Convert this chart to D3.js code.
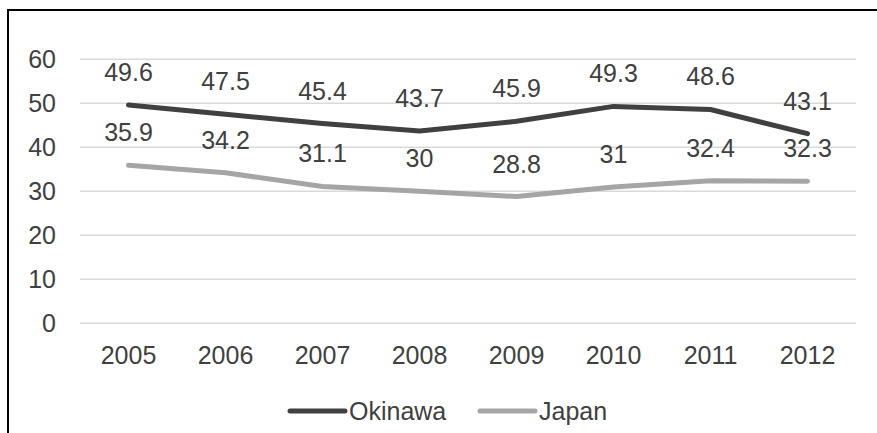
<!DOCTYPE html>
<html>
<head>
<meta charset="utf-8">
<script src="https://cdn.jsdelivr.net/npm/d3@7"></script>
<style>
  html, body { margin: 0; padding: 0; background: #fff; }
  svg { display: block; }
  text { font-family: "Liberation Sans", Arial, sans-serif; fill: #404040; }
</style>
</head>
<body>
<svg id="chart" width="877" height="433"></svg>
<script>
const years = ["2005", "2006", "2007", "2008", "2009", "2010", "2011", "2012"];
const okinawa = [49.6, 47.5, 45.4, 43.7, 45.9, 49.3, 48.6, 43.1];
const japan = [35.9, 34.2, 31.1, 30, 28.8, 31, 32.4, 32.3];
const yTicks = [0, 10, 20, 30, 40, 50, 60];
const seriesNames = ["Okinawa", "Japan"];
const seriesColors = ["#404040", "#a5a5a5"];

const svg = d3.select("#chart");
const fs = 25;
const ff = "Liberation Sans, Arial, sans-serif";

// outer frame
svg.append("rect")
  .attr("x", 8).attr("y", 10)
  .attr("width", 1000).attr("height", 1000)
  .attr("fill", "none").attr("stroke", "#000").attr("stroke-width", 2);

const x = d3.scaleBand().domain(years).range([80, 856]);
const y = d3.scaleLinear().domain([0, 60]).range([323.3, 59.3]);

// gridlines
svg.append("g").selectAll("line").data(yTicks).join("line")
  .attr("x1", 80).attr("x2", 856)
  .attr("y1", d => y(d)).attr("y2", d => y(d))
  .attr("stroke", "#d9d9d9").attr("stroke-width", 1.5);

// y axis labels
const yAxis = d3.axisLeft(y).tickValues(yTicks).tickSize(0).tickPadding(0);
const gy = svg.append("g").attr("transform", "translate(56,0)").call(yAxis);
gy.select(".domain").remove();
gy.selectAll("text").attr("font-size", fs).attr("fill", "#404040").attr("font-family", ff);

// x axis labels
const xAxis = d3.axisBottom(x).tickSize(0).tickPadding(0);
const gx = svg.append("g").attr("transform", "translate(0,346)").call(xAxis);
gx.select(".domain").remove();
gx.selectAll("text").attr("font-size", fs).attr("fill", "#404040").attr("font-family", ff);

const cx = d => x(d) + x.bandwidth() / 2;
const line = d3.line().x((d, i) => cx(years[i])).y(d => y(d));

const data = [okinawa, japan];

// Japan first so Okinawa sits on top
[1, 0].forEach(s => {
  svg.append("path")
    .datum(data[s])
    .attr("d", line)
    .attr("fill", "none")
    .attr("stroke", seriesColors[s])
    .attr("stroke-width", 5)
    .attr("stroke-linecap", "round")
    .attr("stroke-linejoin", "round");
});

// data labels above each point
[0, 1].forEach(s => {
  svg.append("g").selectAll("text").data(data[s]).join("text")
    .attr("x", (d, i) => cx(years[i]))
    .attr("y", d => y(d) - 24)
    .attr("text-anchor", "middle")
    .attr("font-size", fs)
    .text(d => d);
});

// legend
const legend = [
  { x1: 290, x2: 345, tx: 349 },
  { x1: 480, x2: 535, tx: 539 }
];
const ly = 411;
legend.forEach((l, s) => {
  svg.append("line")
    .attr("x1", l.x1).attr("x2", l.x2).attr("y1", ly).attr("y2", ly)
    .attr("stroke", seriesColors[s]).attr("stroke-width", 5)
    .attr("stroke-linecap", "round");
  svg.append("text")
    .attr("x", l.tx).attr("y", ly)
    .attr("dy", "0.35em")
    .attr("font-size", fs)
    .text(seriesNames[s]);
});
</script>
</body>
</html>
